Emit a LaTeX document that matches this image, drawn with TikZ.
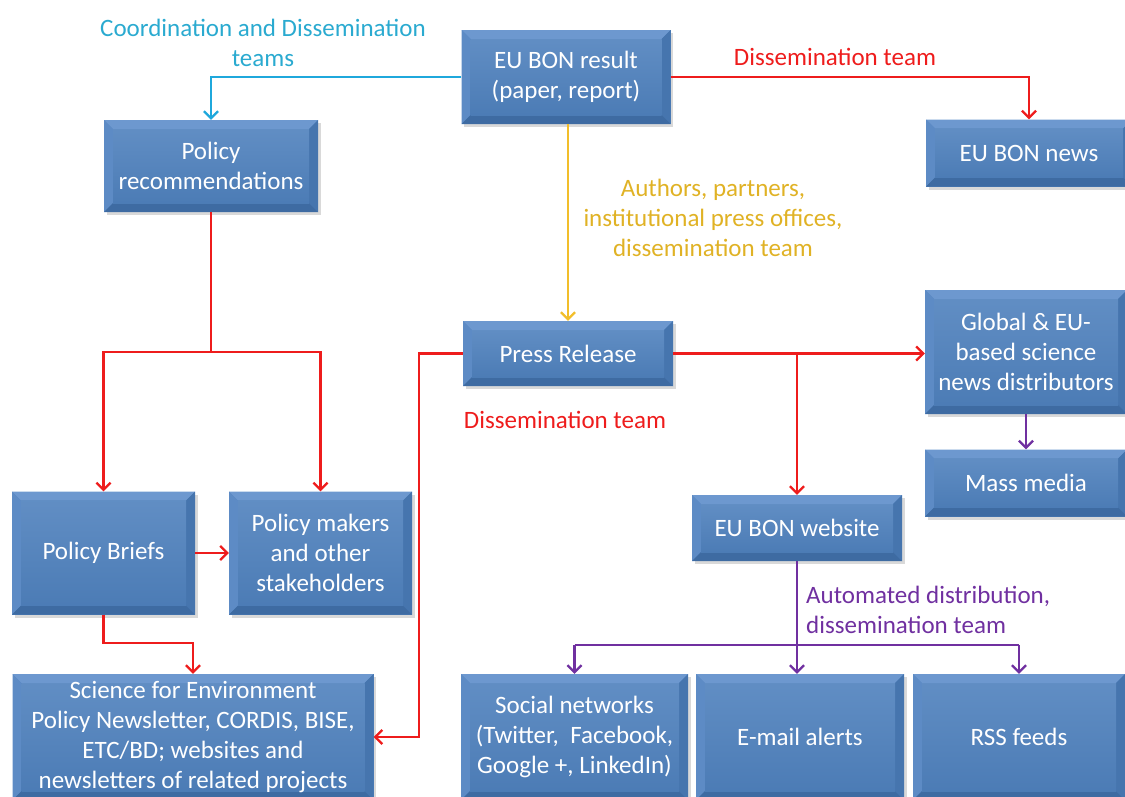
\documentclass[tikz,border=0pt]{standalone}
\usepackage{fontspec}
\setmainfont{Carlito}
\usetikzlibrary{arrows.meta,shadows,calc}
\definecolor{face}{HTML}{4F81BD}
\definecolor{bvtop}{HTML}{6D98CF}
\definecolor{bvleft}{HTML}{5D8BC5}
\definecolor{bvright}{HTML}{4675AE}
\definecolor{bvbot}{HTML}{3E6BA2}
\definecolor{lnred}{HTML}{EE1C1C}
\definecolor{lncyan}{HTML}{1FA8DC}
\definecolor{txcyan}{HTML}{2AAAD0}
\definecolor{lnyel}{HTML}{F2BE2A}
\definecolor{txyel}{HTML}{E0B225}
\definecolor{lnpur}{HTML}{7030A0}
\newcommand{\bvw}{9pt}
\newcommand{\ppb}{path picture bounding box}
\tikzset{
  box/.style={fill=face, text=white, align=center, inner sep=0pt,
    font=\fontsize{25}{30}\selectfont,
    drop shadow={opacity=0.3, shadow xshift=2.5pt, shadow yshift=-3pt},
    path picture={
      \fill[bvtop] (\ppb.north west) -- (\ppb.north east) -- ([xshift=-\bvw,yshift=-\bvw]\ppb.north east) -- ([xshift=\bvw,yshift=-\bvw]\ppb.north west) -- cycle;
      \fill[bvleft] (\ppb.north west) -- ([xshift=\bvw,yshift=-\bvw]\ppb.north west) -- ([xshift=\bvw,yshift=\bvw]\ppb.south west) -- (\ppb.south west) -- cycle;
      \fill[bvright] (\ppb.north east) -- ([xshift=-\bvw,yshift=-\bvw]\ppb.north east) -- ([xshift=-\bvw,yshift=\bvw]\ppb.south east) -- (\ppb.south east) -- cycle;
      \fill[bvbot] (\ppb.south west) -- ([xshift=\bvw,yshift=\bvw]\ppb.south west) -- ([xshift=-\bvw,yshift=\bvw]\ppb.south east) -- (\ppb.south east) -- cycle;
      \shade[top color=face!90!white, bottom color=face!96!black] ([xshift=\bvw,yshift=-\bvw]\ppb.north west) rectangle ([xshift=-\bvw,yshift=\bvw]\ppb.south east);
    }},
  lbl/.style={align=center, inner sep=0pt, font=\fontsize{25}{30}\selectfont},
  conn/.style={line width=2.3pt, -{Straight Barb[length=7pt,width=14pt]}},
  plain/.style={line width=2.3pt},
}
\begin{document}
\begin{tikzpicture}[x=1pt,y=-1pt]
\useasboundingbox (0,0) rectangle (1125,796);
\clip (0,0) rectangle (1125,796);

% boxes
\node[box, minimum width=209pt, minimum height=94pt] (res) at (566,77) {EU BON result\\(paper, report)};
\node[box, minimum width=214pt, minimum height=92pt] (rec) at (211,166) {Policy\\recommendations};
\node[box, minimum width=206pt, minimum height=67pt] (news) at (1029,153) {EU BON news};
\node[box, minimum width=210pt, minimum height=65pt] (pr) at (568,353.5) {Press Release};
\node[box, minimum width=202pt, minimum height=124pt] (glob) at (1026,352) {Global \& EU-\\based science\\news distributors};
\node[box, minimum width=202pt, minimum height=67pt] (mm) at (1026,483) {Mass media};
\node[box, minimum width=210pt, minimum height=66pt] (web) at (797,528) {EU BON website};
\node[box, minimum width=183pt, minimum height=123pt] (pb) at (103.5,553) {Policy Briefs};
\node[box, minimum width=183pt, minimum height=123pt] (pm) at (320.5,553) {Policy makers\\and other\\stakeholders};
\node[box, minimum width=361pt, minimum height=126pt] (sci) at (193,737) {Science for Environment\\Policy Newsletter, CORDIS, BISE,\\ETC/BD; websites and\\newsletters of related projects};
\node[box, minimum width=227pt, minimum height=126pt] (soc) at (574.5,737) {Social networks\\(Twitter,\ \ Facebook,\\Google +, LinkedIn)};
\node[box, minimum width=208pt, minimum height=126pt] (em) at (800,737) {E-mail alerts};
\node[box, minimum width=212pt, minimum height=126pt] (rss) at (1019,737) {RSS feeds};

% labels
\node[lbl, text=txcyan] (l1) at (263,43) {Coordination and Dissemination\\teams};
\node[lbl, text=lnred] (l2) at (835,57) {Dissemination team};
\node[lbl, text=txyel] (l3) at (713,218) {Authors, partners,\\institutional press offices,\\dissemination team};
\node[lbl, text=lnred] (l4) at (565,420) {Dissemination team};
\node[lbl, text=lnpur, align=left, anchor=west] (l5) at (806,610) {Automated distribution,\\dissemination team};

% connectors
\draw[conn, lncyan] (res.west) -| (rec.north);
\draw[conn, lnred] (res.east) -| (news.north);
\draw[conn, lnyel] (res.south -| pr.north) -- (pr.north);

\coordinate (j1) at ($(rec.south)+(0,140)$);
\draw[plain, lnred] (rec.south) -- (j1);
\draw[conn, lnred] (j1) -| (pb.north);
\draw[conn, lnred] (j1) -| (pm.north);
\draw[conn, lnred] (pb.east) -- (pm.west);
\draw[conn, lnred] (pb.south) -- ([yshift=-28pt]pb.south) -| (sci.north);

\coordinate (k) at (419,0);
\draw[conn, lnred] (pr.west) -- (pr.west -| k) |- (sci.east);
\draw[conn, lnred] (pr.east) -- (pr.east -| glob.west);
\draw[conn, lnred] (pr.east -| web.north) -- (web.north);

\draw[conn, lnpur] (glob.south) -- (mm.north);
\coordinate (h) at (0,645);
\draw[conn, lnpur] (web.south) -- (web.south |- em.north);
\draw[plain, lnpur] (h -| soc.north) -- (h -| rss.north);
\draw[conn, lnpur] (h -| soc.north) -- (soc.north);
\draw[conn, lnpur] (h -| rss.north) -- (rss.north);
\end{tikzpicture}
\end{document}
